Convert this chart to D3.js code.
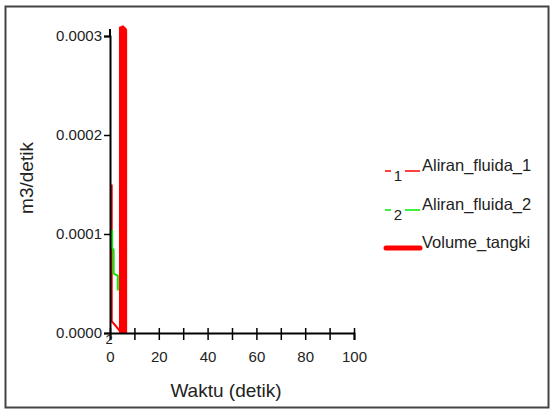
<!DOCTYPE html>
<html><head><meta charset="utf-8">
<script src="https://cdn.jsdelivr.net/npm/d3@7"></script>
<style>html,body{margin:0;padding:0;background:#fff;}svg{display:block;font-family:"Liberation Sans",Arial,sans-serif;}</style>
</head><body>
<svg id="c" width="554" height="412"></svg>
<script>
const xTicks = [0,10,20,30,40,50,60,70,80,90,100];
const xTickLabels = ["0","","20","","40","","60","","80","","100"];
const yTicks = [0,0.0001,0.0002,0.0003];
const yTickLabels = ["0.0000","0.0001","0.0002","0.0003"];
const seriesNames = ["Aliran_fluida_1","Aliran_fluida_2","Volume_tangki"];
const aliran1 = [[0.7,0.00015],[0.7,0.000012],[4.4,0.000001]];
const aliran2 = [[0.85,0.000104],[0.85,0.000086],[1.5,0.000084],[1.5,0.00006],[3.2,0.000058],[3.2,0.000043]];
const volume = [[4.7,0],[4.7,0.000309],[6.0,0.000306],[6.0,0]];

const svg = d3.select("#c");
svg.append("rect").attr("x",5.5).attr("y",6.5).attr("width",543).attr("height",401)
  .attr("fill","#fff").attr("stroke","#444").attr("stroke-width",2);

const x = d3.scaleLinear().domain([0,100]).range([110,354]);
const y = d3.scaleLinear().domain([0,0.0003]).range([333,36]);

// series
const line = d3.line().x(d=>x(d[0])).y(d=>y(d[1]));
svg.append("path").datum(aliran1).attr("d",line).attr("fill","none").attr("stroke","#ff0000").attr("stroke-width",2);
svg.append("path").datum(aliran2).attr("d",line).attr("fill","none").attr("stroke","#00ee00").attr("stroke-width",2);
svg.append("path").datum(volume).attr("d",line).attr("fill","none").attr("stroke","#ff0000").attr("stroke-width",5).attr("stroke-linejoin","bevel");

// axes
const xa = svg.append("g").attr("transform","translate(0,333)")
  .call(d3.axisBottom(x).tickValues(xTicks).tickSize(7).tickFormat((d,i)=>xTickLabels[i]));
xa.select(".domain").attr("stroke","#000").attr("stroke-width",2);
xa.selectAll(".tick line").attr("y1",-5).attr("y2",7).attr("stroke","#000").attr("stroke-width",1.5);
xa.selectAll(".tick text").attr("y",18).attr("dy","0.71em").attr("font-size",15).attr("fill","#222").attr("font-family",'"Liberation Sans",Arial,sans-serif');

const ya = svg.append("g").attr("transform","translate(110,0)")
  .call(d3.axisLeft(y).tickValues(yTicks).tickSize(6).tickFormat((d,i)=>yTickLabels[i]));
ya.select(".domain").attr("stroke","#000").attr("stroke-width",2);
ya.selectAll(".tick line").attr("stroke","#000").attr("stroke-width",1.5);
ya.selectAll(".tick text").attr("x",-8).attr("font-size",15).attr("fill","#222").attr("font-family",'"Liberation Sans",Arial,sans-serif');
svg.append("line").attr("x1",x(0)).attr("x2",x(0)).attr("y1",y(0.0003)-7).attr("y2",y(0.0003)+1).attr("stroke","#000").attr("stroke-width",2);

// series marker under origin
svg.append("text").attr("x",x(0)-1).attr("y",344).attr("text-anchor","middle").attr("font-size",13).attr("fill","#222").text("2");

// titles
svg.append("text").attr("x",226).attr("y",397).attr("text-anchor","middle").attr("font-size",19).attr("fill","#222").text("Waktu (detik)");
svg.append("text").attr("transform","translate(33,178) rotate(-90)").attr("text-anchor","middle").attr("font-size",19).attr("fill","#222").text("m3/detik");

// legend
const lg = svg.append("g");
const rows = [171,210,248];
const colors = ["#ff0000","#00ee00","#ff0000"];
seriesNames.forEach((n,i)=>{
  const yy = rows[i];
  if(i<2){
    lg.append("line").attr("x1",385).attr("x2",391).attr("y1",yy).attr("y2",yy).attr("stroke",colors[i]).attr("stroke-width",1.5);
    lg.append("line").attr("x1",405).attr("x2",420).attr("y1",yy).attr("y2",yy).attr("stroke",colors[i]).attr("stroke-width",1.5);
    lg.append("text").attr("x",398).attr("y",yy+10).attr("text-anchor","middle").attr("font-size",15).attr("fill","#222").text(String(i+1));
  } else {
    lg.append("line").attr("x1",386).attr("x2",420).attr("y1",yy).attr("y2",yy).attr("stroke",colors[i]).attr("stroke-width",5).attr("stroke-linecap","round");
  }
  lg.append("text").attr("x",422).attr("y",yy-6).attr("dy","0.35em").attr("font-size",16.5).attr("fill","#222").text(n);
});
</script>
</body></html>
